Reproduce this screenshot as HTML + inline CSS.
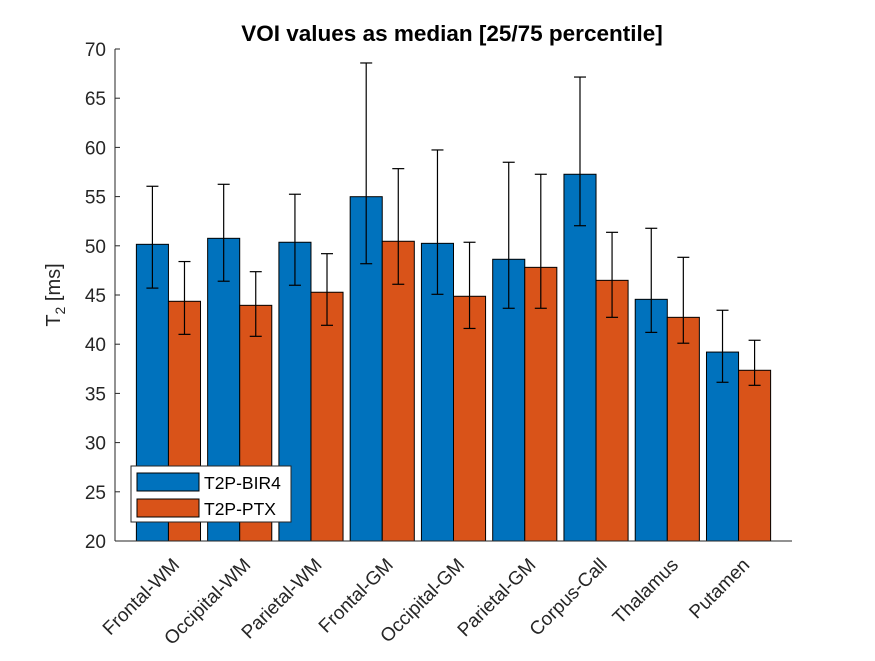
<!DOCTYPE html>
<html><head><meta charset="utf-8"><style>
body{margin:0;background:#fff;}
text{font-family:"Liberation Sans",Arial,sans-serif;fill:#262626;}
</style></head><body>
<svg id="chart" width="875" height="656" viewBox="0 0 875 656" xmlns="http://www.w3.org/2000/svg">
<rect width="875" height="656" fill="#fff"/>
<text x="452" y="41" text-anchor="middle" font-size="22.5" font-weight="bold" style="fill:#000">VOI values as median [25/75 percentile]</text>
<text transform="translate(60,295) rotate(-90)" text-anchor="middle" font-size="20">T<tspan font-size="14" dy="5">2</tspan><tspan dy="-5"> [ms]</tspan></text>
<g id="bars"></g>
<g id="axes"></g>
<g>
<rect x="131" y="466" width="160" height="56" fill="#fff" stroke="#262626" stroke-width="1"/>
<rect x="137" y="473" width="62" height="18" fill="#0072BD" stroke="#000"/>
<text x="204" y="489" font-size="17.5" style="fill:#000">T2P-BIR4</text>
<rect x="137" y="499" width="62" height="18" fill="#D95319" stroke="#000"/>
<text x="204" y="515" font-size="17.5" style="fill:#000">T2P-PTX</text>
</g>
</svg>
<script>
const categories=["Frontal-WM","Occipital-WM","Parietal-WM","Frontal-GM","Occipital-GM","Parietal-GM","Corpus-Call","Thalamus","Putamen"];
const bir4Median=[50.15,50.76,50.36,54.99,50.25,48.63,57.27,44.56,39.2];
const bir4Low=[45.7,46.4,45.99,48.18,45.07,43.65,52.04,41.2,36.13];
const bir4High=[56.05,56.25,55.24,68.58,59.74,58.49,67.15,51.78,43.45];
const ptxMedian=[44.36,43.95,45.28,50.46,44.87,47.81,46.49,42.73,37.35];
const ptxLow=[41.0,40.8,41.92,46.09,41.6,43.65,42.73,40.1,35.82];
const ptxHigh=[48.4,47.37,49.2,57.84,50.36,57.27,51.37,48.83,40.4];
const yTicks=[20,25,30,35,40,45,50,55,60,65,70];

const NS="http://www.w3.org/2000/svg";
const X0=115,X1=792,Y0=541,Y1=49,XMIN=0.25,XMAX=9.75,YMIN=20,YMAX=70;
function xs(v){return X0+(v-XMIN)/(XMAX-XMIN)*(X1-X0);}
function ys(v){return Y0-(v-YMIN)/(YMAX-YMIN)*(Y0-Y1);}
function mk(tag,attrs,parent){const e=document.createElementNS(NS,tag);for(const k in attrs)e.setAttribute(k,attrs[k]);parent.appendChild(e);return e;}
const bars=document.getElementById('bars'),axes=document.getElementById('axes');
const bw=0.45;
const series=[[bir4Median,bir4Low,bir4High,'#0072BD',-1,'bir4'],[ptxMedian,ptxLow,ptxHigh,'#D95319',0,'ptx']];
categories.forEach((c,i)=>{
  series.forEach(s=>{
    const x=i+1+s[4]*bw;
    const r=mk('rect',{x:xs(x),y:ys(s[0][i]),width:xs(x+bw)-xs(x),height:ys(YMIN)-ys(s[0][i]),fill:s[3],stroke:'#000','stroke-width':1},bars);
    
    
  });
});
categories.forEach((c,i)=>{
  series.forEach(s=>{
    const cx=xs(i+1+s[4]*bw+bw/2);
    const g=mk('g',{stroke:'#000','stroke-width':1.2},bars);
    
    
    mk('line',{x1:cx,x2:cx,y1:ys(s[1][i]),y2:ys(s[2][i])},g);
    mk('line',{x1:cx-6,x2:cx+6,y1:ys(s[1][i]),y2:ys(s[1][i])},g);
    mk('line',{x1:cx-6,x2:cx+6,y1:ys(s[2][i]),y2:ys(s[2][i])},g);
  });
});
const ya=mk('line',{x1:X0,x2:X0,y1:Y0,y2:Y1,stroke:'#262626'},axes);


const xa=mk('line',{x1:X0,x2:X1,y1:Y0,y2:Y0,stroke:'#262626'},axes);


yTicks.forEach(t=>{
  const y=ys(t);
  mk('line',{x1:X0,x2:X0+5,y1:y,y2:y,stroke:'#262626'},axes);
  const tx=mk('text',{x:X0-9,y:y+7,'text-anchor':'end','font-size':19},axes);
  tx.textContent=t;
  
  
});
categories.forEach((c,i)=>{
  const x=xs(i+1)+12;
  const tx=mk('text',{transform:'translate('+x+',566) rotate(-45)','text-anchor':'end','font-size':19},axes);
  tx.textContent=c;
  
  
});
</script>
</body></html>
